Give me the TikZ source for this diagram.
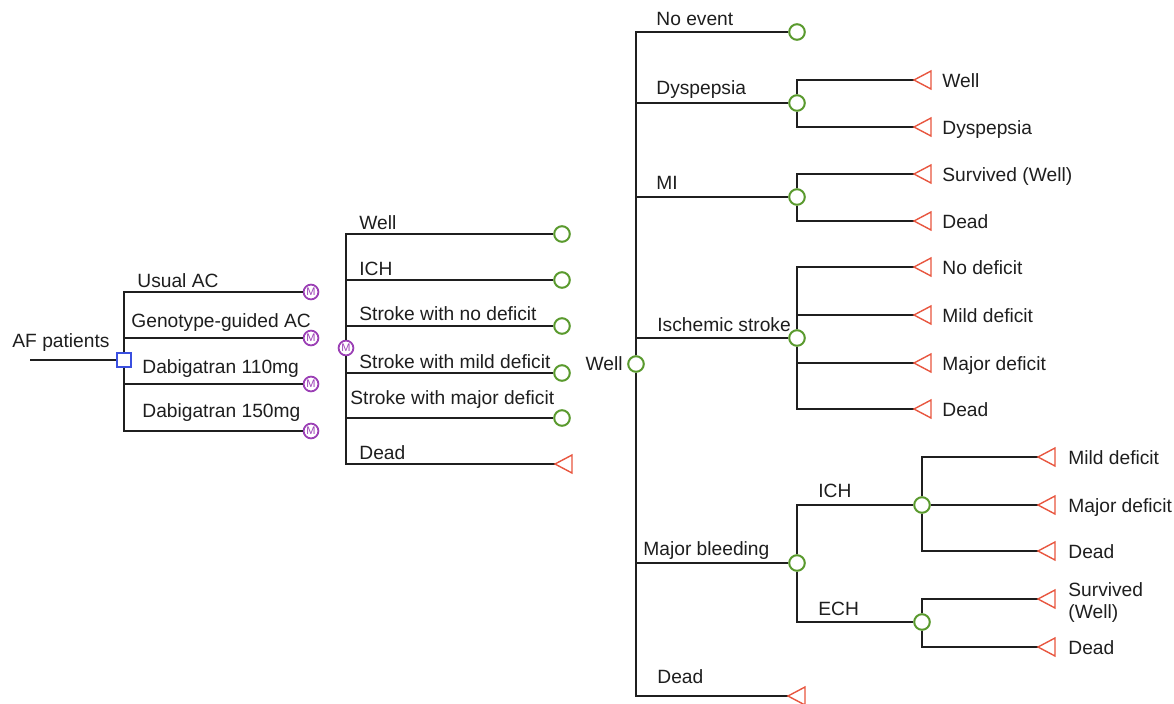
\documentclass[tikz,border=0pt]{standalone}
\usepackage{fontspec}
\setmainfont{Liberation Sans}
\definecolor{cgreen}{HTML}{5A9A2E}
\definecolor{tred}{HTML}{E8563F}
\definecolor{mpurple}{HTML}{9B3FB5}
\definecolor{dblue}{HTML}{3A4FE0}
\definecolor{txt}{HTML}{1E1E1E}
\begin{document}
\begin{tikzpicture}[x=0.5pt,y=-0.5pt,
  branch/.style={draw=black!88, line width=1pt},
  chance/.style={circle, draw=cgreen, line width=1pt, fill=white, minimum size=7.8pt, inner sep=0pt},
  markov/.style={circle, draw=mpurple, line width=0.9pt, fill=white, minimum size=7.4pt, inner sep=0pt, text=mpurple, font=\fontsize{5.5}{5.5}\selectfont},
  decision/.style={rectangle, draw=dblue, line width=0.8pt, fill=white, minimum size=7pt, inner sep=0pt},
  lbl/.style={anchor=base west, inner sep=0pt, text=txt, font=\fontsize{9.6}{11}\selectfont},
  terminal/.pic={\draw[draw=tred, line width=0.7pt, fill=white] (0,0) -- (17,-9) -- (17,9) -- cycle;}
]
\useasboundingbox (0,0) rectangle (1174,703);

% ---------- decision part ----------
\coordinate (in) at (30,360);
\node[decision] (d) at (124,360) {};
\node[markov] (m1) at (311,292) {M};
\node[markov] (m2) at (311,338) {M};
\node[markov] (m3) at (311,384) {M};
\node[markov] (m4) at (311,431) {M};
\draw[branch] (in) -- (d);
\foreach \m in {m1,m2,m3,m4} \draw[branch] (d) |- (\m);

\node[lbl] (lAF) at (12,347) {AF patients};
\node[lbl] (lUs) at (137,287) {Usual AC};
\node[lbl] (lGe) at (131,327) {Genotype-guided AC};
\node[lbl] (lD1) at (142,373) {Dabigatran 110mg};
\node[lbl] (lD2) at (142,417) {Dabigatran 150mg};

% ---------- Markov states ----------
\node[markov] (mk) at (346,348) {M};
\node[chance] (sW) at (562,234) {};
\node[chance] (sI) at (562,280) {};
\node[chance] (sN) at (562,326) {};
\node[chance] (sM) at (562,373) {};
\node[chance] (sJ) at (562,418) {};
\coordinate (sD) at (555,464);
\foreach \s in {sW,sI,sN,sM,sJ,sD} \draw[branch] (mk) |- (\s);
\pic at (sD) {terminal};

\node[lbl] (lsW) at (359,229) {Well};
\node[lbl] (lsI) at (359,275) {ICH};
\node[lbl] (lsN) at (359,320) {Stroke with no deficit};
\node[lbl] (lsM) at (359,368) {Stroke with mild deficit};
\node[lbl] (lsJ) at (350,404) {Stroke with major deficit};
\node[lbl] (lsD) at (359,459) {Dead};

% ---------- Well subtree ----------
\node[chance] (w) at (636,364) {};
\node[lbl, anchor=base east] (lw) at (623,370) {Well};
\node[chance] (c0) at (797,32) {};
\node[chance] (c1) at (797,103) {};
\node[chance] (c2) at (797,197) {};
\node[chance] (c3) at (797,338) {};
\node[chance] (c4) at (797,563) {};
\coordinate (cD) at (788,696);
\foreach \c in {c0,c1,c2,c3,c4,cD} \draw[branch] (w) |- (\c);
\pic at (cD) {terminal};

\node[lbl] (lc0) at (656,25) {No event};
\node[lbl] (lc1) at (656,94) {Dyspepsia};
\node[lbl] (lc2) at (656,189) {MI};
\node[lbl] (lc3) at (657,331) {Ischemic stroke};
\node[lbl] (lc4) at (643,555) {Major bleeding};
\node[lbl] (lcD) at (657,683) {Dead};

% Dyspepsia
\coordinate (t11) at (914,80);
\coordinate (t12) at (914,127);
% MI
\coordinate (t21) at (914,174);
\coordinate (t22) at (914,221);
% Ischemic stroke
\coordinate (t31) at (914,267);
\coordinate (t32) at (914,315);
\coordinate (t33) at (914,363);
\coordinate (t34) at (914,409);
\foreach \t in {t11,t12} \draw[branch] (c1) |- (\t);
\foreach \t in {t21,t22} \draw[branch] (c2) |- (\t);
\foreach \t in {t31,t32,t33,t34} \draw[branch] (c3) |- (\t);
\foreach \t in {t11,t12,t21,t22,t31,t32,t33,t34} \pic at (\t) {terminal};

\node[lbl] (l11) at (942,87) {Well};
\node[lbl] (l12) at (942,134) {Dyspepsia};
\node[lbl] (l21) at (942,181) {Survived (Well)};
\node[lbl] (l22) at (942,228) {Dead};
\node[lbl] (l31) at (942,274) {No deficit};
\node[lbl] (l32) at (942,322) {Mild deficit};
\node[lbl] (l33) at (942,370) {Major deficit};
\node[lbl] (l34) at (942,416) {Dead};

% Major bleeding
\node[chance] (ich) at (922,505) {};
\node[chance] (ech) at (922,622) {};
\draw[branch] (c4) |- (ich);
\draw[branch] (c4) |- (ech);
\node[lbl] (lich) at (818,497) {ICH};
\node[lbl] (lech) at (818,615) {ECH};

\coordinate (u1) at (1038,457);
\coordinate (u2) at (1038,505);
\coordinate (u3) at (1038,551);
\coordinate (v1) at (1038,599);
\coordinate (v2) at (1038,647);
\draw[branch] (ich) |- (u1);
\draw[branch] (ich) -- (u2);
\draw[branch] (ich) |- (u3);
\draw[branch] (ech) |- (v1);
\draw[branch] (ech) |- (v2);
\foreach \t in {u1,u2,u3,v1,v2} \pic at (\t) {terminal};

\node[lbl] (lu1) at (1068,464) {Mild deficit};
\node[lbl] (lu2) at (1068,512) {Major deficit};
\node[lbl] (lu3) at (1068,558) {Dead};
\node[lbl, align=left] (lv1) at (1068,618) {Survived\\(Well)};
\node[lbl] (lv2) at (1068,654) {Dead};
\end{tikzpicture}
\end{document}
